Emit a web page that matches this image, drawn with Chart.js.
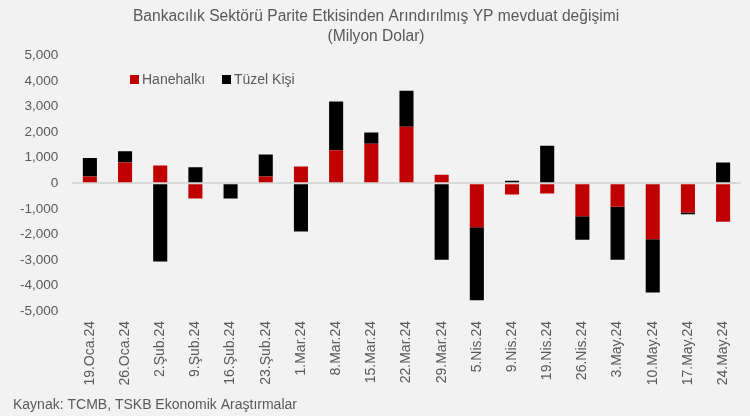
<!DOCTYPE html>
<html>
<head>
<meta charset="utf-8">
<script src="https://cdn.jsdelivr.net/npm/chart.js@4"></script>
<style>
  html, body { margin: 0; padding: 0; background: #f2f2f2; }
  #wrap { width: 750px; height: 416px; }
</style>
</head>
<body>
<div id="wrap"><canvas id="myBarChart"></canvas></div>
<script>
// Veriler (Milyon Dolar)
var tarihler = [
  "19.Oca.24", "26.Oca.24", "2.Şub.24", "9.Şub.24", "16.Şub.24", "23.Şub.24",
  "1.Mar.24", "8.Mar.24", "15.Mar.24", "22.Mar.24", "29.Mar.24", "5.Nis.24",
  "9.Nis.24", "19.Nis.24", "26.Nis.24", "3.May.24", "10.May.24", "17.May.24",
  "24.May.24",
];
var hanehalki = [
  260, 810, 690, -600, 0, 260, 660, 1290, 1550, 2210, 330, -1720, -440, -400,
  -1290, -920, -2190, -1145, -1510,
];
var tuzelKisi = [
  730, 440, -3060, 625, -600, 870, -1890, 1910, 440, 1410, -2990, -2860, 100,
  1470, -920, -2070, -2090, -65, 810,
];
var yMin = -5000, yMax = 5000, yStep = 1000;
var kaynak = "Kaynak: TCMB, TSKB Ekonomik Araştırmalar";

var GRI = "#595959";
var FONT = '"Liberation Sans", Arial, sans-serif';

function number_format(n) {
  return String(n).replace(/\B(?=(\d{3})+(?!\d))/g, ",");
}

// Grafik içi lejant + kaynak notu
var icLejant = {
  id: "icLejant",
  afterDraw: function (chart) {
    var ctx = chart.ctx;
    var x = 130, y = 79;
    ctx.save();
    ctx.font = "14px " + FONT;
    ctx.textBaseline = "middle";
    chart.data.datasets.forEach(function (ds) {
      ctx.fillStyle = ds.backgroundColor;
      ctx.fillRect(x, y - 4, 9, 9);
      ctx.fillStyle = GRI;
      ctx.fillText(ds.label, x + 12, y + 1);
      x += 92;
    });
    ctx.fillStyle = GRI;
    ctx.fillText(kaynak, 13, chart.height - 11);
    ctx.restore();
  },
};

var ctx = document.getElementById("myBarChart").getContext("2d");
var myBarChart = new Chart(ctx, {
  type: "bar",
  data: {
    labels: tarihler,
    datasets: [
      {
        label: "Hanehalkı",
        backgroundColor: "#c00000",
        data: hanehalki,
      },
      {
        label: "Tüzel Kişi",
        backgroundColor: "#000000",
        data: tuzelKisi,
      },
    ],
  },
  options: {
    responsive: true,
    maintainAspectRatio: false,
    animation: false,
    datasets: {
      bar: { categoryPercentage: 1, barPercentage: 0.4 },
    },
    layout: {
      padding: { left: 6, right: 4, top: 0, bottom: 25 },
    },
    scales: {
      x: {
        stacked: true,
        grid: { display: false, drawTicks: false },
        border: { display: false },
        afterFit: function (scale) {
          scale.height = 80;
        },
        ticks: {
          color: GRI,
          minRotation: 90,
          maxRotation: 90,
          autoSkip: false,
          padding: 10,
          font: { family: FONT, size: 14 },
        },
      },
      y: {
        stacked: true,
        min: yMin,
        max: yMax,
        border: { display: false },
        grid: {
          color: function (c) {
            return c.tick.value === 0 ? "#d9d9d9" : "rgba(0,0,0,0)";
          },
          lineWidth: 2,
          drawTicks: false,
        },
        ticks: {
          stepSize: yStep,
          color: GRI,
          padding: 14,
          font: { family: FONT, size: 13.5 },
          callback: function (value) {
            return number_format(value);
          },
        },
      },
    },
    plugins: {
      legend: { display: false },
      tooltip: { enabled: false },
      title: {
        display: true,
        text: [
          "Bankacılık Sektörü Parite Etkisinden Arındırılmış YP mevduat değişimi",
          "(Milyon Dolar)",
        ],
        color: GRI,
        font: { family: FONT, size: 15.6, weight: "normal", lineHeight: 1.33 },
        padding: { top: 6, bottom: 8 },
      },
    },
  },
  plugins: [icLejant],
});
</script>
</body>
</html>
